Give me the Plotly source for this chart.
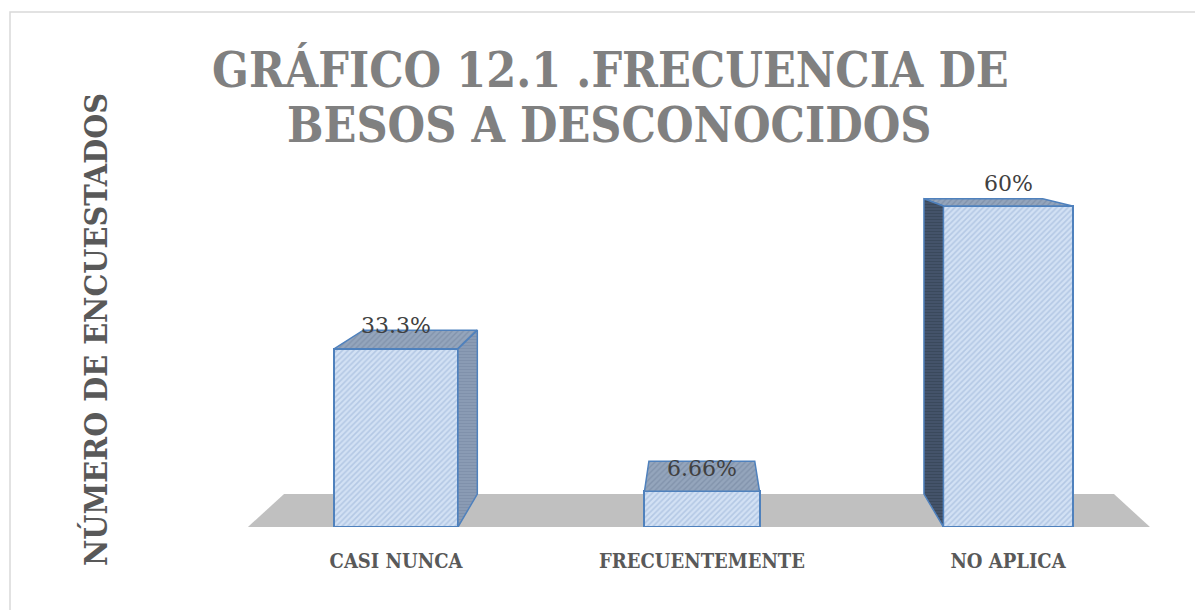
import plotly.graph_objects as go

# ---- data ----
categories = ["CASI NUNCA", "FRECUENTEMENTE", "NO APLICA"]
values = [33.3, 6.66, 60]
value_labels = ["33.3%", "6.66%", "60%"]
title_lines = ["GRÁFICO 12.1 .FRECUENCIA DE", "BESOS A DESCONOCIDOS"]
y_title = "NÚMERO DE ENCUESTADOS"

# ---- style / geometry ----
W, H = 1203, 610
OFF = 8  # page body margin
PL, PR, PT, PB = 240, 1160, 170, 527   # desired plot area on screen
L, R, T, B = PL - OFF, W - (PR - OFF), PT - OFF, H - (PB - OFF)
PX_PER_X = 306.0
X0_PX = 396.0
X_RANGE = [(PL - X0_PX) / PX_PER_X, (PR - X0_PX) / PX_PER_X]
PX_PER_Y = 5.35
Y_RANGE = [0, (PB - PT) / PX_PER_Y]
bar_widths = [0.405, 0.376, 0.422]
VPX, VPY, K = 0.993, 77.0, 0.92   # one-point perspective for the 3D look
EDGE = "#4f81bd"
FLOOR = [-0.484, 2.464]


def back(x, y):
    return VPX + (x - VPX) * K, VPY + (y - VPY) * K


def px_x(p):
    return (p - PL) / (PR - PL)


def px_y(p):
    return (PB - p) / (PB - PT)


idx = list(range(len(categories)))
fig = go.Figure()

# front faces
fig.add_trace(go.Bar(
    x=idx, y=values, width=bar_widths,
    marker=dict(color="#c6d9f1", line=dict(color=EDGE, width=2),
                pattern=dict(shape="/", fgcolor="#95afd4", bgcolor="#d2e1f4",
                             size=4, solidity=0.4)),
    hoverinfo="skip", showlegend=False))

for i, v in enumerate(values):
    xl, xr = i - bar_widths[i] / 2, i + bar_widths[i] / 2
    bxl, byt = back(xl, v)
    bxr, _ = back(xr, v)
    _, byb = back(xl, 0)
    # top face
    fig.add_trace(go.Scatter(
        x=[xl, xr, bxr, bxl, xl], y=[v, v, byt, byt, v], mode="lines",
        fill="toself", fillcolor="#8e9fb7",
        fillpattern=dict(shape="/", fgcolor="#6f819b", bgcolor="#94a5bc", size=4, solidity=0.35),
        line=dict(color=EDGE, width=1.5), hoverinfo="skip", showlegend=False))
    # visible side face
    if xr < VPX:
        fig.add_trace(go.Scatter(
            x=[xr, bxr, bxr, xr, xr], y=[v, byt, byb, 0, v], mode="lines",
            fill="toself", fillcolor="#8496b0",
            fillpattern=dict(shape="-", fgcolor="#7386a0", bgcolor="#8a9bb4", size=3, solidity=0.3),
            line=dict(color=EDGE, width=1.5), hoverinfo="skip", showlegend=False))
    elif xl > VPX:
        fig.add_trace(go.Scatter(
            x=[xl, bxl, bxl, xl, xl], y=[v, byt, byb, 0, v], mode="lines",
            fill="toself", fillcolor="#3c4a5d",
            fillpattern=dict(shape="-", fgcolor="#2f3b4b", bgcolor="#44536a", size=3, solidity=0.3),
            line=dict(color=EDGE, width=1.5), hoverinfo="skip", showlegend=False))
    fig.add_annotation(x=i, y=v, text=value_labels[i], showarrow=False,
                       yanchor="middle", yshift=23,
                       font=dict(family="DejaVu Serif", size=22, color="#404040"))

# floor
fbl = back(FLOOR[0], 0)
fbr = back(FLOOR[1], 0)
fig.add_shape(type="path", xref="x", yref="y", layer="below",
              path=f"M {FLOOR[0]} 0 L {FLOOR[1]} 0 L {fbr[0]} {fbr[1]} L {fbl[0]} {fbl[1]} Z",
              fillcolor="#c0c0c0", line=dict(width=0))

# chart border
fig.add_shape(type="rect", xref="paper", yref="paper",
              x0=px_x(10), x1=px_x(W + 30), y0=px_y(H + 30), y1=px_y(12),
              line=dict(color="#d9d9d9", width=1.5), fillcolor="rgba(0,0,0,0)")

title_font = dict(family="DejaVu Serif Condensed, DejaVu Serif", size=48, color="#808080", weight="bold")
fig.add_annotation(xref="paper", yref="paper", x=px_x(610), y=px_y(70), text=title_lines[0],
                   showarrow=False, xanchor="center", yanchor="middle", font=title_font)
fig.add_annotation(xref="paper", yref="paper", x=px_x(609), y=px_y(125), text=title_lines[1],
                   showarrow=False, xanchor="center", yanchor="middle", font=title_font)
fig.add_annotation(xref="paper", yref="paper", x=px_x(96), y=px_y(330), text=y_title,
                   textangle=-90, showarrow=False, xanchor="center", yanchor="middle",
                   font=dict(family="DejaVu Serif Condensed, DejaVu Serif", size=32,
                             color="#595959", weight="bold"))

fig.update_layout(
    width=W, height=H, margin=dict(l=L, r=R, t=T, b=B),
    paper_bgcolor="white", plot_bgcolor="white",
    xaxis=dict(range=X_RANGE, tickvals=idx, ticktext=categories, showgrid=False,
               zeroline=False, showline=False, ticks="", ticklabelstandoff=20,
               tickfont=dict(family="DejaVu Serif Condensed, DejaVu Serif", size=20,
                             color="#595959", weight="bold")),
    yaxis=dict(range=Y_RANGE, visible=False, showgrid=False, zeroline=False),
    bargap=0,
)

fig.write_html("out.html")
